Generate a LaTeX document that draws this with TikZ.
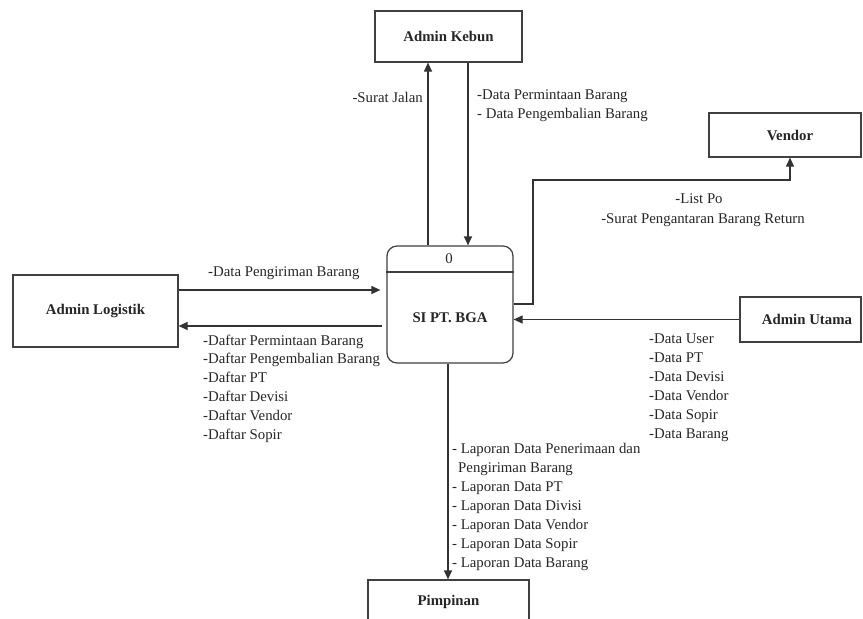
\documentclass[tikz,border=0pt]{standalone}
\usepackage{fontspec}
\setmainfont{Liberation Serif}
\usetikzlibrary{arrows.meta}
\begin{document}
\begin{tikzpicture}[x=1pt,y=-1pt,
  txt/.style={font=\fontsize{14.8}{19}\selectfont, text=black!85, inner sep=0pt},
  btxt/.style={font=\fontsize{14.8}{19}\selectfont\bfseries, text=black!85, inner sep=0pt},
  ent/.style={draw=black!75, line width=1.2pt, rectangle, inner sep=0pt, font=\fontsize{14.8}{19}\selectfont\bfseries, text=black!85},
  procbox/.style={draw=black!75, line width=1.2pt, rectangle, rounded corners=10pt, inner sep=0pt, minimum width=126pt, minimum height=117pt},
  flow/.style={draw=black!80, line width=1.2pt, -{Triangle[length=9pt,width=8pt]}},
  ]
\useasboundingbox[fill=white] (0,0) rectangle (863,619);

% entities
\node[ent, minimum width=147pt, minimum height=51pt] (kebun) at (448.5,36.5) {Admin Kebun};
\node[ent, minimum width=152pt, minimum height=44pt, label={[btxt,xshift=5pt]center:Vendor}] (vendor) at (785,135) {};
\node[ent, minimum width=165pt, minimum height=72pt] (logistik) at (95.5,311) {Admin Logistik};
\node[ent, minimum width=121pt, minimum height=45pt, label={[btxt,xshift=6.5pt]center:Admin Utama}] (utama) at (800.5,319.5) {};
\node[ent, minimum width=161pt, minimum height=44pt] (pimpinan) at (448.5,602) {Pimpinan};

% process
\node[procbox] (proc) at (450,304.5) {};
\draw[draw=black!75, line width=1.2pt] (proc.west |- 0,272) -- (proc.east |- 0,272);
\node[txt] (procid) at (449,259) {0};
\node[btxt] (procname) at (450,318) {SI PT. BGA};

% connectors
\coordinate (sjx) at (428,0);
\coordinate (dpx) at (468,0);
\draw[flow] (sjx |- proc.north) -- (sjx |- kebun.south);
\draw[flow] (dpx |- kebun.south) -- (dpx |- proc.north);
\draw[flow] (proc.east |- 0,304) -- (533,304) -- (533,180) -- (790,180) -- (790,0 |- vendor.south);
\draw[flow] (utama.west) -- (utama.west -| proc.east);
\draw[flow, shorten >=6pt] (logistik.east |- 0,290) -- (proc.west |- 0,290);
\draw[flow, shorten <=4pt] (proc.west |- 0,326) -- (logistik.east |- 0,326);
\draw[flow] (proc.south -| 448,0) -- (pimpinan.north -| 448,0);

% labels
\node[txt, anchor=base east] (lsj) at (423,102) {-Surat Jalan};
\node[txt, anchor=base west] (ldp1) at (477,99) {-Data Permintaan Barang};
\node[txt, anchor=base west] (ldp2) at (477,118) {- Data Pengembalian Barang};
\node[txt, anchor=base] (lv1) at (699,203) {-List Po};
\node[txt, anchor=base] (lv2) at (703,223) {-Surat Pengantaran Barang Return};
\node[txt, anchor=base west] (lkirim) at (208,276) {-Data Pengiriman Barang};

\foreach \t [count=\i from 0] in {-Daftar Permintaan Barang, -Daftar Pengembalian Barang, -Daftar PT, -Daftar Devisi, -Daftar Vendor, -Daftar Sopir}
  \node[txt, anchor=base west] (daftar\i) at (203, 345+18.8*\i) {\t};

\foreach \t [count=\i from 0] in {-Data User, -Data PT, -Data Devisi, -Data Vendor, -Data Sopir, -Data Barang}
  \node[txt, anchor=base west] (data\i) at (649, 343+19*\i) {\t};

\node[txt, anchor=base west] (lap0) at (452,453) {- Laporan Data Penerimaan dan};
\node[txt, anchor=base west] (lap1) at (458,472) {Pengiriman Barang};
\foreach \t [count=\i from 2] in {- Laporan Data PT, - Laporan Data Divisi, - Laporan Data Vendor, - Laporan Data Sopir, - Laporan Data Barang}
  \node[txt, anchor=base west] (lap\i) at (452, 453+19*\i) {\t};
\end{tikzpicture}
\end{document}
